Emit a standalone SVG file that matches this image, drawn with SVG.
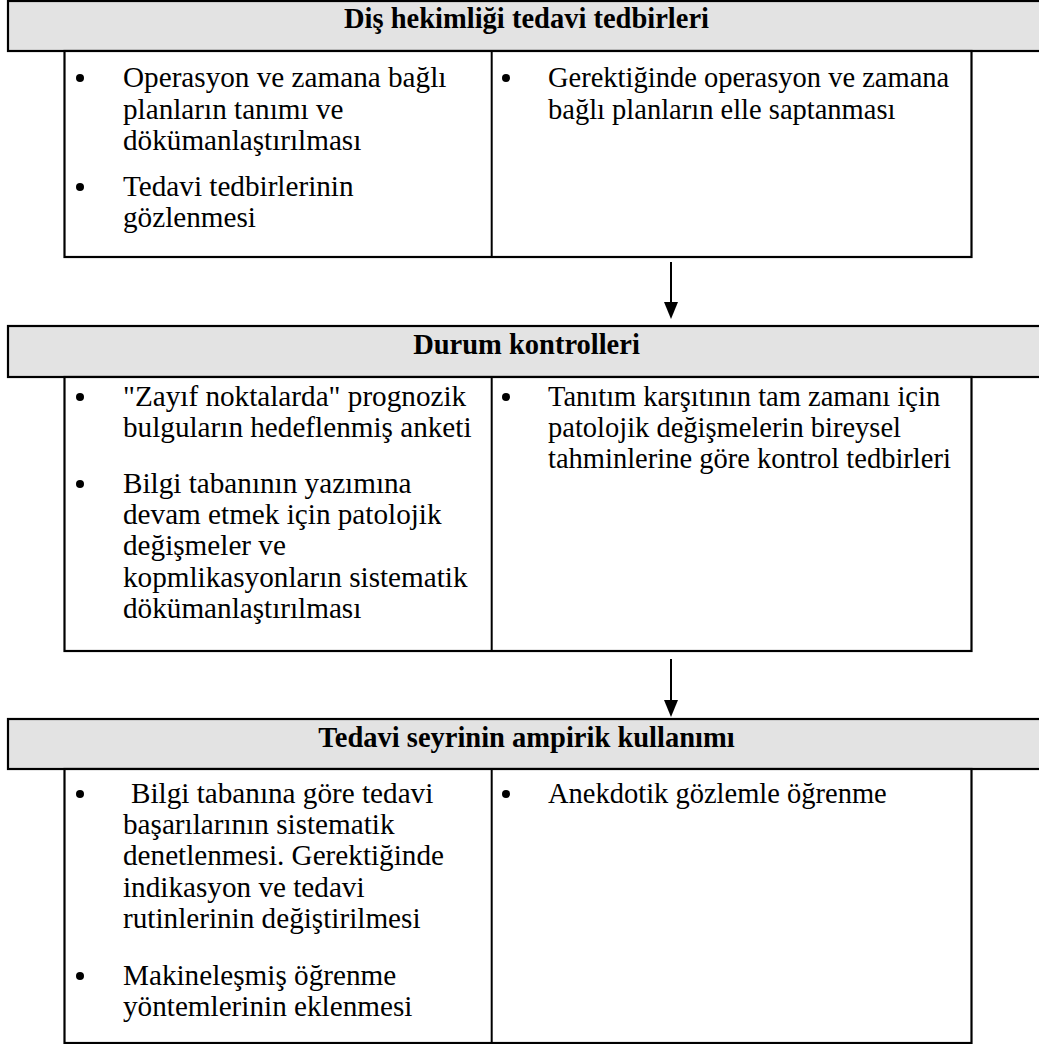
<svg xmlns="http://www.w3.org/2000/svg" width="1039" height="1044" viewBox="0 0 1039 1044">
<style>
.hdr{fill:#e3e3e3;stroke:#000;stroke-width:2.2}
.box{fill:#fff;stroke:#000;stroke-width:2.2}
.div{stroke:#000;stroke-width:2}
.ht{font-family:"Liberation Serif","Times New Roman",serif;font-weight:bold;font-size:28.5px;text-anchor:middle;fill:#000}
.bt{font-family:"Liberation Serif","Times New Roman",serif;font-size:29.2px;fill:#000}
.bt.r{font-size:28.5px}
.bul{fill:#000}
.conn{stroke:#000;stroke-width:2;fill:none}
</style>
<defs>
<marker id="ah" markerWidth="17" markerHeight="14" refX="1" refY="7" orient="auto" markerUnits="userSpaceOnUse" viewBox="0 0 17 14">
<path d="M0,0 L17,7 L0,14 Z" fill="#000"/>
</marker>
</defs>
<rect width="1039" height="1044" fill="#fff"/>

<g id="node1">
<rect class="hdr" x="8" y="1" width="1045" height="50"/>
<text class="ht" x="526.5" y="28">Diş hekimliği tedavi tedbirleri</text>
<rect class="box" x="64.5" y="51" width="907" height="206"/>
<line class="div" x1="491.7" y1="51" x2="491.7" y2="257"/>
<circle class="bul" cx="80" cy="78" r="4"/>
<text class="bt" x="123" y="87">Operasyon ve zamana bağlı</text>
<text class="bt" x="123" y="119">planların tanımı ve</text>
<text class="bt" x="123" y="150">dökümanlaştırılması</text>
<circle class="bul" cx="80" cy="187" r="4"/>
<text class="bt" x="123" y="196">Tedavi tedbirlerinin</text>
<text class="bt" x="123" y="227">gözlenmesi</text>
<circle class="bul" cx="506" cy="78" r="4"/>
<text class="bt r" x="548" y="87">Gerektiğinde operasyon ve zamana</text>
<text class="bt r" x="548" y="119">bağlı planların elle saptanması</text>
</g>

<g id="node2">
<rect class="hdr" x="8" y="326" width="1045" height="51"/>
<text class="ht" x="526.5" y="354">Durum kontrolleri</text>
<rect class="box" x="64.5" y="377" width="907" height="274"/>
<line class="div" x1="491.7" y1="377" x2="491.7" y2="651"/>
<circle class="bul" cx="80" cy="397" r="4"/>
<text class="bt" x="123" y="406">"Zayıf noktalarda" prognozik</text>
<text class="bt" x="123" y="437">bulguların hedeflenmiş anketi</text>
<circle class="bul" cx="80" cy="484" r="4"/>
<text class="bt" x="123" y="493">Bilgi tabanının yazımına</text>
<text class="bt" x="123" y="524">devam etmek için patolojik</text>
<text class="bt" x="123" y="555">değişmeler ve</text>
<text class="bt" x="123" y="587">kopmlikasyonların sistematik</text>
<text class="bt" x="123" y="618">dökümanlaştırılması</text>
<circle class="bul" cx="506" cy="397" r="4"/>
<text class="bt r" x="548" y="406">Tanıtım karşıtının tam zamanı için</text>
<text class="bt r" x="548" y="437">patolojik değişmelerin bireysel</text>
<text class="bt r" x="548" y="468">tahminlerine göre kontrol tedbirleri</text>
</g>

<g id="node3">
<rect class="hdr" x="8" y="719" width="1045" height="50"/>
<text class="ht" x="526.5" y="747">Tedavi seyrinin ampirik kullanımı</text>
<rect class="box" x="64.5" y="769" width="907" height="274"/>
<line class="div" x1="491.7" y1="769" x2="491.7" y2="1043"/>
<circle class="bul" cx="80" cy="794" r="4"/>
<text class="bt" x="131" y="803">Bilgi tabanına göre tedavi</text>
<text class="bt" x="123" y="834">başarılarının sistematik</text>
<text class="bt" x="123" y="865">denetlenmesi. Gerektiğinde</text>
<text class="bt" x="123" y="897">indikasyon ve tedavi</text>
<text class="bt" x="123" y="928">rutinlerinin değiştirilmesi</text>
<circle class="bul" cx="80" cy="976" r="4"/>
<text class="bt" x="123" y="985">Makineleşmiş öğrenme</text>
<text class="bt" x="123" y="1016">yöntemlerinin eklenmesi</text>
<circle class="bul" cx="506" cy="794" r="4"/>
<text class="bt r" x="548" y="803">Anekdotik gözlemle öğrenme</text>
</g>

<g id="connectors">
<line class="conn" x1="671" y1="262" x2="671" y2="303" marker-end="url(#ah)"/>
<line class="conn" x1="671" y1="659" x2="671" y2="701" marker-end="url(#ah)"/>
</g>
</svg>
